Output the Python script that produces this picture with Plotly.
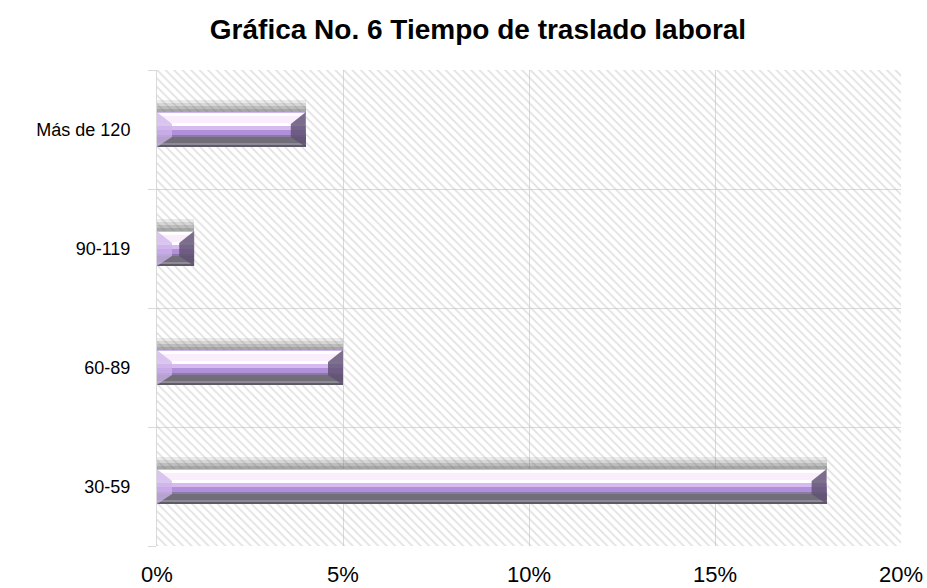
import plotly.graph_objects as go

categories = ["30-59", "60-89", "90-119", "Más de 120"]
values = [18, 5, 1, 4]
x_tickvals = [0, 5, 10, 15, 20]
x_ticktext = ["0%", "5%", "10%", "15%", "20%"]
title_text = "Gráfica No. 6 Tiempo de traslado laboral"

FONT = "Liberation Sans, Arial, sans-serif"
L, R, T, B = 157, 26, 70, 42
W, H = 927, 588
plot_h = H - T - B
plot_w = W - L - R
u = 4.0 / plot_h            # category units per pixel
xu = 20.0 / plot_w          # x units per pixel
BAR_PX = 35
ypos = list(range(len(categories)))

fig = go.Figure()

# hatched background
fig.add_trace(go.Bar(
    x=[20] * len(categories), y=ypos, orientation="h", width=1,
    marker=dict(color="rgba(0,0,0,0)", line=dict(width=0),
                pattern=dict(shape="\\", fgcolor="#c4c4c4", bgcolor="rgba(0,0,0,0)",
                             size=6, solidity=0.3, fillmode="overlay")),
    hoverinfo="skip", showlegend=False))

def stripe(a, h, color):
    off = (BAR_PX / 2 - a - h) * u
    fig.add_trace(go.Bar(
        x=values, y=ypos, orientation="h", base=0, offset=off, width=h * u,
        marker=dict(color=color, line=dict(width=0)),
        hoverinfo="skip", showlegend=False))

# shadow above the bars
for a, h, c in [(-12, 3, "rgba(110,110,110,0.14)"), (-9, 3, "rgba(110,110,110,0.28)"),
                (-6, 3, "rgba(110,110,110,0.45)"), (-3, 3, "rgba(110,110,110,0.60)")]:
    stripe(a, h, c)

# bar body stripes
for a, h, c in [(0, 1, "#cdb8ea"), (1, 3, "#ffffff"), (4, 7, "#fbeefc"), (11, 3, "#ffffff"),
                (14, 4, "#d6baf0"), (18, 5, "#b090d8"), (23, 2, "#8c7aa6"),
                (25, 6, "#716d79"), (31, 2, "#8e8b96"), (33, 2, "#5e5a66")]:
    stripe(a, h, c)

# bevel ends
top_in, bot_in = 12, 10
for i, v in enumerate(values):
    d = min(15 * xu, v / 2)
    yt = i + BAR_PX / 2 * u
    yb = i - BAR_PX / 2 * u
    yti = yt - top_in * u
    ybi = yb + bot_in * u
    fig.add_trace(go.Scatter(
        x=[0, d, d, 0, 0], y=[yt, yti, ybi, yb, yt], mode="lines", fill="toself",
        fillcolor="rgba(205,180,235,0.75)", line=dict(width=0),
        hoverinfo="skip", showlegend=False))
    fig.add_trace(go.Scatter(
        x=[v, v - d, v - d, v, v], y=[yt, yti, ybi, yb, yt], mode="lines", fill="toself",
        fillcolor="rgba(95,80,115,0.82)", line=dict(width=0),
        hoverinfo="skip", showlegend=False))

fig.update_layout(
    width=W, height=H,
    margin=dict(l=L, r=R, t=T, b=B, autoexpand=False),
    paper_bgcolor="white", plot_bgcolor="white",
    barmode="overlay", bargap=0,
    title=dict(text="<b>" + title_text + "</b>", x=478 / W, xref="container", xanchor="center",
               y=1 - 29 / H, yref="container", yanchor="middle", automargin=False,
               font=dict(family=FONT, size=28, color="#000000")),
    font=dict(family=FONT, size=18, color="#000000"),
    showlegend=False,
)
fig.update_xaxes(
    range=[0, 20], tickvals=x_tickvals, ticktext=x_ticktext,
    showgrid=True, gridcolor="#d9d9d9", gridwidth=1, zeroline=False,
    showline=False, ticks="", ticklabelstandoff=13, automargin=False,
    tickfont=dict(family=FONT, size=22, color="#000000"), fixedrange=True)
fig.update_yaxes(
    range=[-0.5, 3.5], tickvals=ypos, ticktext=categories,
    showgrid=False, zeroline=False, showline=True, linecolor="#d9d9d9", linewidth=1,
    ticks="", ticklabelstandoff=22, automargin=False,
    tickfont=dict(family=FONT, size=18, color="#000000"),
    minor=dict(tickmode="array", tickvals=[-0.5, 0.5, 1.5, 2.5, 3.5], ticks="outside",
               ticklen=8, tickcolor="#d9d9d9", showgrid=True, gridcolor="#d9d9d9"),
    fixedrange=True)

fig.write_html("out.html", config={"displayModeBar": False},
               post_script="document.body.style.margin='0';")
